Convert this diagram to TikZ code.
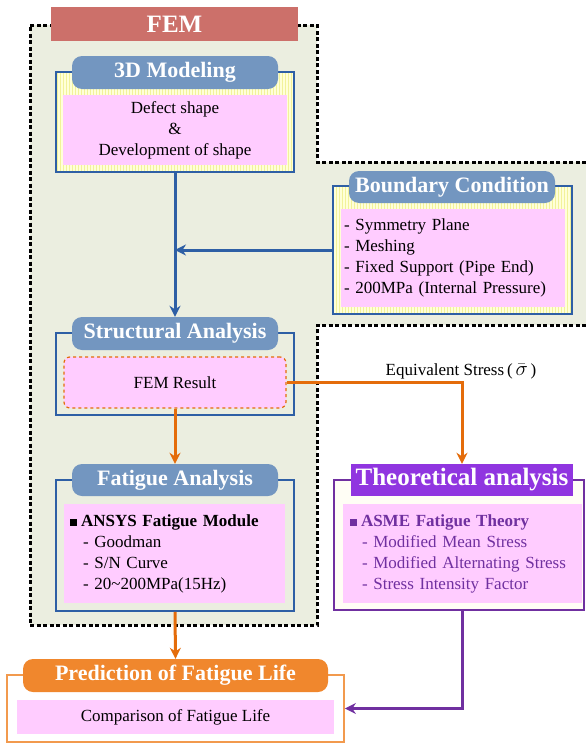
\documentclass[tikz,border=0pt]{standalone}
\usepackage{fontspec}
\setmainfont{Liberation Serif}
\usetikzlibrary{positioning, arrows.meta, patterns, calc}
\definecolor{femgreen}{HTML}{EBEEE0}
\definecolor{femred}{HTML}{CC706A}
\definecolor{headblue}{HTML}{7396C0}
\definecolor{lineblue}{HTML}{2E5FA5}
\definecolor{boxpink}{HTML}{FFCCFF}
\definecolor{stripeyellow}{HTML}{FFFFD8}
\definecolor{stripeline}{HTML}{F2F29A}
\definecolor{arroworange}{HTML}{E46C0A}
\definecolor{headorange}{HTML}{F0872D}
\definecolor{lineorange}{HTML}{F29A4E}
\definecolor{headpurple}{HTML}{9035E0}
\definecolor{linepurple}{HTML}{7030A0}

\begin{document}
\begin{tikzpicture}[x=1pt, y=-1pt,
	outerbox/.style={draw=lineblue, line width=1.8pt, inner sep=0pt},
	stripebox/.style={outerbox, preaction={fill=stripeyellow}, pattern=vertical lines, pattern color=stripeline},
	pinkbox/.style={fill=boxpink, inner sep=0pt, font=\fontsize{17}{21}\selectfont},
	headbox/.style={fill=headblue, rounded corners=10pt, text=white, inner sep=0pt, font=\fontsize{22}{24}\selectfont\bfseries},
	bluearrow/.style={draw=lineblue, line width=3pt, -{Stealth[length=11pt,width=11pt]}},
	orangearrow/.style={draw=arroworange, line width=3pt, -{Stealth[length=11pt,width=11pt]}},
	purplearrow/.style={draw=linepurple, line width=3pt, -{Stealth[length=11pt,width=11pt]}}]
		\useasboundingbox (0,0) rectangle (586,744);
		% FEM region
		\fill[femgreen] (30,25) -- (317,25) -- (317,162) -- (586,162) -- (586,325) -- (317,325) -- (317,625) -- (30,625) -- cycle;
		\draw[line width=3pt, dash pattern=on 4pt off 2.5pt] (586,162) -- (317,162) -- (317,25) -- (30,25) -- (30,625) -- (317,625) -- (317,325) -- (586,325);
		\node[fill=femred, minimum width=247, minimum height=34, inner sep=0pt, text=white, font=\fontsize{25}{28}\selectfont\bfseries] (fem) at (174.5,24) {FEM};

		% 3D modeling
		\node[stripebox, minimum width=238, minimum height=100] (modeling) at (175,122) {};
		\node[pinkbox, minimum width=224, minimum height=70, align=center] (shape) at (175,130) {Defect shape\\\&\\Development of shape};
		\node[headbox, minimum width=206, minimum height=33] (modelinghead) at (175,72.5) {3D Modeling};

		% boundary condition
		\node[stripebox, minimum width=239, minimum height=128] (bc) at (452.5,250) {};
		\node[pinkbox, minimum width=224, minimum height=98, text width=218, inner xsep=3pt, align=left] (bclist) at (453,258)
			{- Symmetry Plane\\- Meshing\\- Fixed Support (Pipe End)\\- 200MPa (Internal Pressure)};
		\node[headbox, minimum width=206, minimum height=32] (bchead) at (452,187) {Boundary Condition};

		% structural analysis
		\node[outerbox, minimum width=238, minimum height=82] (struct) at (175,374) {};
		\node[pinkbox, draw=arroworange, dashed, line width=1.2pt, rounded corners=6pt, minimum width=222, minimum height=51] (result) at (175,382.5) {FEM Result};
		\node[headbox, minimum width=206, minimum height=33] (structhead) at (175,333.5) {Structural Analysis};

		% fatigue analysis
		\node[outerbox, minimum width=238, minimum height=131] (fatigue) at (175,545.5) {};
		\node[pinkbox, minimum width=221, minimum height=99, text width=209, inner xsep=6pt, align=left] (fatiguelist) at (174.5,553.5)
			{\rule{7pt}{7pt}\hspace{4pt}\textbf{ANSYS Fatigue Module}\\\hspace{13pt}- Goodman\\\hspace{13pt}- S/N Curve\\\hspace{13pt}- 20\textasciitilde200MPa(15Hz)};
		\node[headbox, minimum width=206, minimum height=32] (fatiguehead) at (175,480) {Fatigue Analysis};

		% theoretical analysis
		\node[outerbox, draw=linepurple, fill=yellow!4, minimum width=250, minimum height=130] (theo) at (459,545) {};
		\node[pinkbox, minimum width=239, minimum height=99, text width=225, inner xsep=7pt, align=left, text=linepurple] (theolist) at (462.5,553.5)
			{\rule{7pt}{7pt}\hspace{4pt}\textbf{ASME Fatigue Theory}\\\hspace{12pt}- Modified Mean Stress\\\hspace{12pt}- Modified Alternating Stress\\\hspace{12pt}- Stress Intensity Factor};
		\node[headbox, fill=headpurple, rounded corners=0pt, minimum width=222, minimum height=32, font=\fontsize{25}{28}\selectfont\bfseries] (theohead) at (462,480) {Theoretical analysis};

		% prediction
		\node[outerbox, draw=lineorange, fill=white, minimum width=337, minimum height=67] (pred) at (175.5,708.5) {};
		\node[pinkbox, minimum width=317, minimum height=34] (comparison) at (175.5,717) {Comparison of Fatigue Life};
		\node[headbox, fill=headorange, minimum width=305, minimum height=33] (predhead) at (175.5,675.5) {Prediction of Fatigue Life};

		% connectors
		\draw[bluearrow] (modeling.south) -- (structhead.north);
		\draw[bluearrow] (bc.west) -- (bc.west -| modeling.south);
		\draw[orangearrow] (result.south) -- (fatiguehead.north);
		\draw[orangearrow] (result.east) -| (theohead.north);
		\node[font=\fontsize{17}{20}\selectfont] (eqlabel) at (461,371) {Equivalent Stress\,(\,{\fontsize{22}{22}\selectfont$\bar{\sigma}$}\,)};
		\draw[orangearrow] (fatigue.south) -- (predhead.north);
		\draw[purplearrow] (theo.south -| theohead.north) |- (pred.east);
	\end{tikzpicture}
\end{document}
